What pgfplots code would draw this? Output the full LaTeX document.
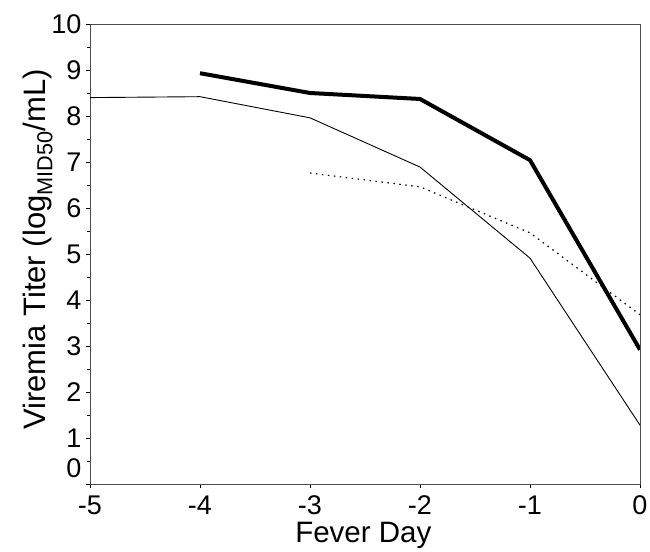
\documentclass[border=0pt]{standalone}
\usepackage{fontspec}
\setmainfont{Liberation Sans}
\usepackage{pgfplots}
\pgfplotsset{compat=1.18}
\begin{document}
\begin{tikzpicture}
\path[use as bounding box] (-90bp,-68bp) rectangle (560bp,484bp);
\begin{axis}[
  scale only axis,
  width=550bp, height=460bp,
  xmin=-5, xmax=0, ymin=0, ymax=10,
  axis line style={line width=0.9bp, black!70},
  xtick={-5,-4,-3,-2,-1,0},
  xticklabels={-5,-4,-3,-2,-1,0},
  ytick={0,1,2,3,4,5,6,7,8,9,10},
  yticklabels={\raisebox{32bp}{0},1,2,3,4,5,6,7,8,9,10},
  minor ytick={0.5,1.5,...,9.5},
  tick align=outside,
  tick pos=left,
  major tick length=4bp,
  minor tick length=3bp,
  tick style={black, line width=0.8bp},
  ticklabel style={font=\fontsize{27bp}{31bp}\selectfont},
  xticklabel style={yshift=-4bp},
  yticklabel style={xshift=-1bp},
  xlabel={Fever Day},
  ylabel={Viremia Titer (log\textsubscript{MID50}/mL)},
  every axis x label/.style={at={(axis description cs:0.497,-0.112)}, anchor=center, font=\fontsize{29.5bp}{34bp}\selectfont},
  every axis y label/.style={at={(axis description cs:-0.0945,0.51)}, rotate=90, anchor=center, font=\fontsize{31bp}{36bp}\selectfont},
]
\addplot[black, line width=0.9bp] coordinates {
  (-5,8.40) (-4,8.42) (-3,7.96) (-2,6.89) (-1,4.91) (0,1.28)
};
\addplot[black, line width=4bp, line join=round] coordinates {
  (-4,8.93) (-3,8.50) (-2,8.37) (-1,7.04) (0,2.92)
};
\addplot[black, line width=1.2bp, dash pattern=on 1.5bp off 4.5bp] coordinates {
  (-3,6.76) (-2,6.46) (-1,5.46) (0,3.68)
};
\end{axis}
\end{tikzpicture}
\end{document}
